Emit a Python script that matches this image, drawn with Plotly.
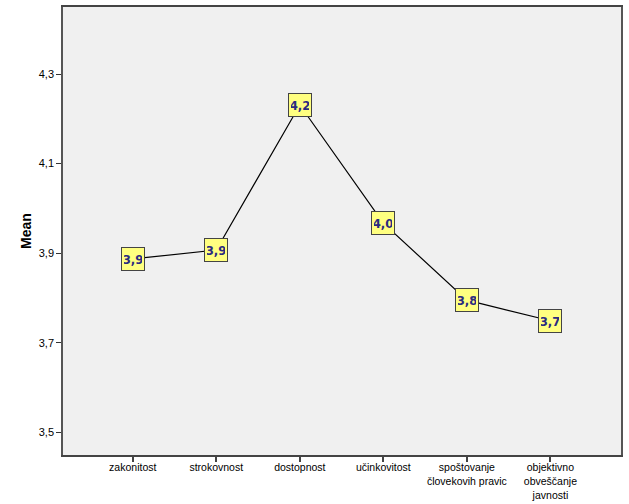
import plotly.graph_objects as go

categories = ["zakonitost", "strokovnost", "dostopnost", "učinkovitost",
              "spoštovanje<br>človekovih pravic", "objektivno<br>obveščanje<br>javnosti"]
means = [3.887, 3.907, 4.231, 3.967, 3.795, 3.749]
y_ticks = [3.5, 3.7, 3.9, 4.1, 4.3]

x_idx = list(range(len(categories)))

fig = go.Figure()
fig.add_trace(go.Scatter(x=x_idx, y=means, mode="lines",
                         line=dict(color="black", width=1.2), hoverinfo="skip"))

for i, v in zip(x_idx, means):
    fig.add_annotation(x=i, y=v, text=("%.1f" % v).replace(".", ","), showarrow=False,
                       font=dict(family="DejaVu Sans Condensed, Arial", size=13, color="#2b2b80", weight="bold"),
                       bgcolor="#FFFF80", bordercolor="#444444", borderwidth=1, borderpad=2,
                       width=18, height=18)

fig.update_layout(
    width=629, height=504,
    margin=dict(l=63, r=8, t=7, b=49, autoexpand=False),
    paper_bgcolor="white", plot_bgcolor="#F0F0F0",
    separators=",.",
    showlegend=False,
    font=dict(family="Arial, Liberation Sans", size=11, color="black"),
    xaxis=dict(range=[-0.835, 5.845], tickmode="array", tickvals=x_idx, ticktext=categories,
               showgrid=False, zeroline=False, showline=True, linecolor="#444444", linewidth=1.5,
               mirror=True, ticks="outside", ticklen=5, tickcolor="#444444", tickwidth=1.5,
               tickfont=dict(size=10.5), ticklabelstandoff=-3, automargin=False),
    yaxis=dict(range=[3.449, 4.45], tickmode="array", tickvals=y_ticks, tickformat=".1f",
               showgrid=False, zeroline=False, showline=True, linecolor="#555555", linewidth=1.5,
               mirror=True, ticks="outside", ticklen=5, tickcolor="#333333", tickwidth=1.2,
               title=dict(text="<b>Mean</b>", font=dict(size=14), standoff=4),
               tickfont=dict(size=11), automargin=False),
)

fig.write_html("out.html")
